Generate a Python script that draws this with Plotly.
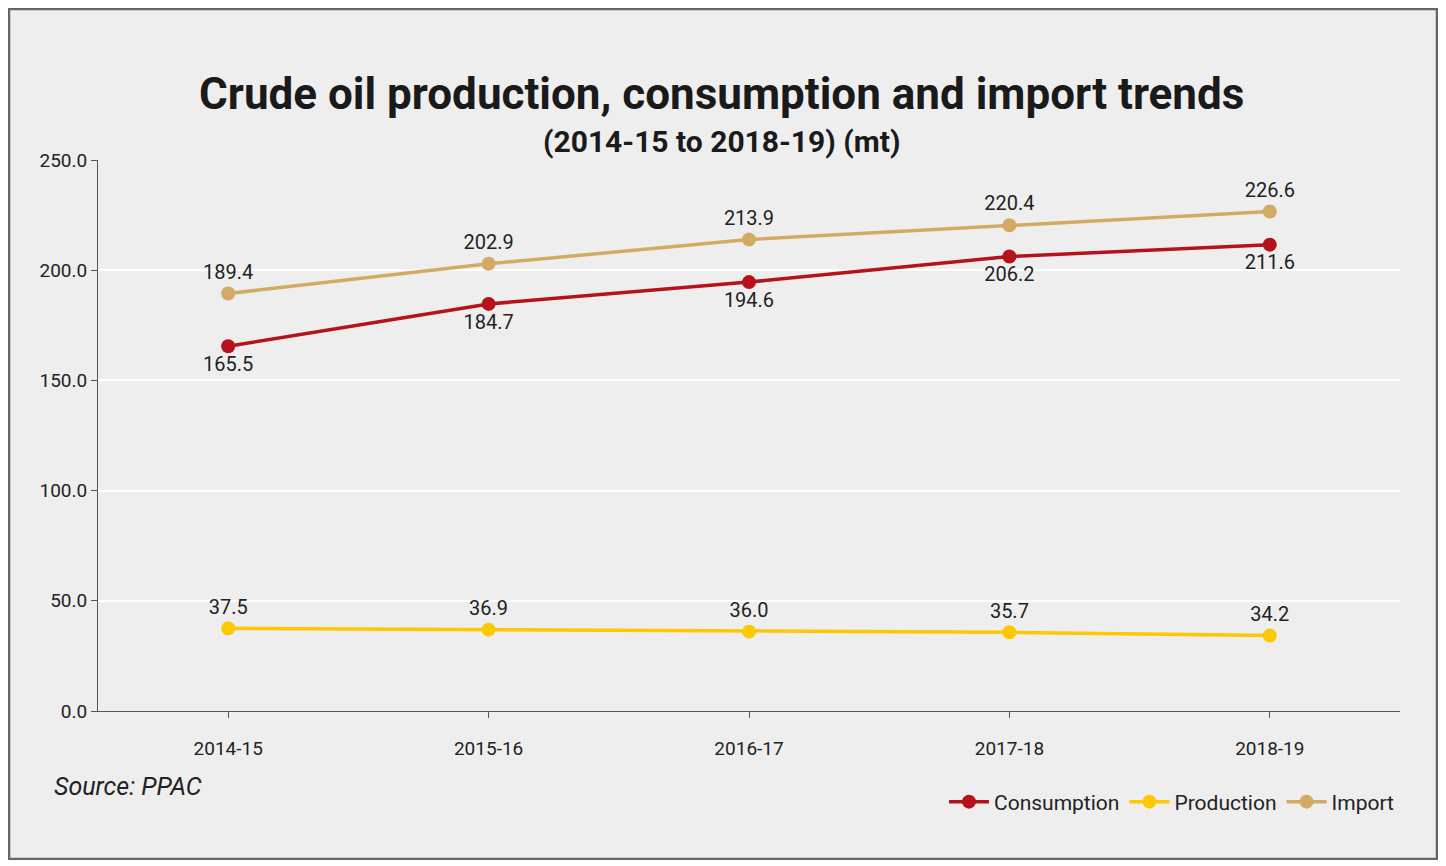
import plotly.graph_objects as go

years = ["2014-15", "2015-16", "2016-17", "2017-18", "2018-19"]
consumption = [165.5, 184.7, 194.6, 206.2, 211.6]
production = [37.5, 36.9, 36.0, 35.7, 34.2]
imports = [189.4, 202.9, 213.9, 220.4, 226.6]

F = "Roboto, Liberation Sans, sans-serif"
fig = go.Figure()
for name, vals, col, pos in [("Consumption", consumption, "#b5121b", "bottom center"),
                             ("Production", production, "#fcc800", "top center"),
                             ("Import", imports, "#d2aa64", "top center")]:
    fig.add_trace(go.Scatter(x=years, y=vals, name=name, mode="lines+markers+text",
                             line=dict(color=col, width=3.5), marker=dict(size=14, color=col),
                             text=[f"{v:.1f}" for v in vals], textposition=pos,
                             textfont=dict(size=20, color="#222", family=F), cliponaxis=False))

W, H = 1430, 852
O = 8  # page offset
l, r, t, b = 98 - O, 1430 - (1400 - O), 160 - O, H - (711 - O)
pw, ph = W - l - r, H - t - b
def px(x): return (x - O - l) / pw
def py(y): return (H - b - (y - O)) / ph

fig.update_layout(
    width=W, height=H, margin=dict(l=l, r=r, t=t, b=b),
    paper_bgcolor="#efeeef", plot_bgcolor="#efeeef",
    font=dict(family=F, size=19, color="#222"),
    showlegend=True,
    legend=dict(orientation="h", x=1.0, xanchor="right", y=py(802), yanchor="middle",
                font=dict(size=21, family=F), bgcolor="rgba(0,0,0,0)", itemwidth=40),
    xaxis=dict(showgrid=False, showline=True, linecolor="#555", ticks="outside",
               tickcolor="#555", ticklen=6, tickfont=dict(size=19), range=[-0.5, 4.5],
               ticklabelstandoff=14),
    yaxis=dict(range=[0, 250], dtick=50, tickformat=".1f", gridcolor="#ffffff", gridwidth=1.5,
               showline=True, linecolor="#555", ticks="outside", tickcolor="#555", ticklen=6,
               tickfont=dict(size=19), zeroline=False),
    shapes=[dict(type="rect", xref="paper", yref="paper", x0=px(O + 1), x1=px(O + W - 1),
                 y0=py(O + H - 1), y1=py(O + 1), line=dict(color="#666", width=2.5))],
    annotations=[
        dict(text="<b>Crude oil production, consumption and import trends</b>", xref="paper", yref="paper",
             x=px(721), y=py(66), showarrow=False, font=dict(size=44, family=F, color="#1a1a1a")),
        dict(text="<b>(2014-15 to 2018-19) (mt)</b>", xref="paper", yref="paper",
             x=px(721), y=py(122), showarrow=False, font=dict(size=30, family=F, color="#1a1a1a")),
        dict(text="<i>Source: PPAC</i>", xref="paper", yref="paper", x=px(52), y=py(803),
             xanchor="left", showarrow=False, font=dict(size=25, family=F, color="#222")),
    ],
)
fig.write_html("out.html")
